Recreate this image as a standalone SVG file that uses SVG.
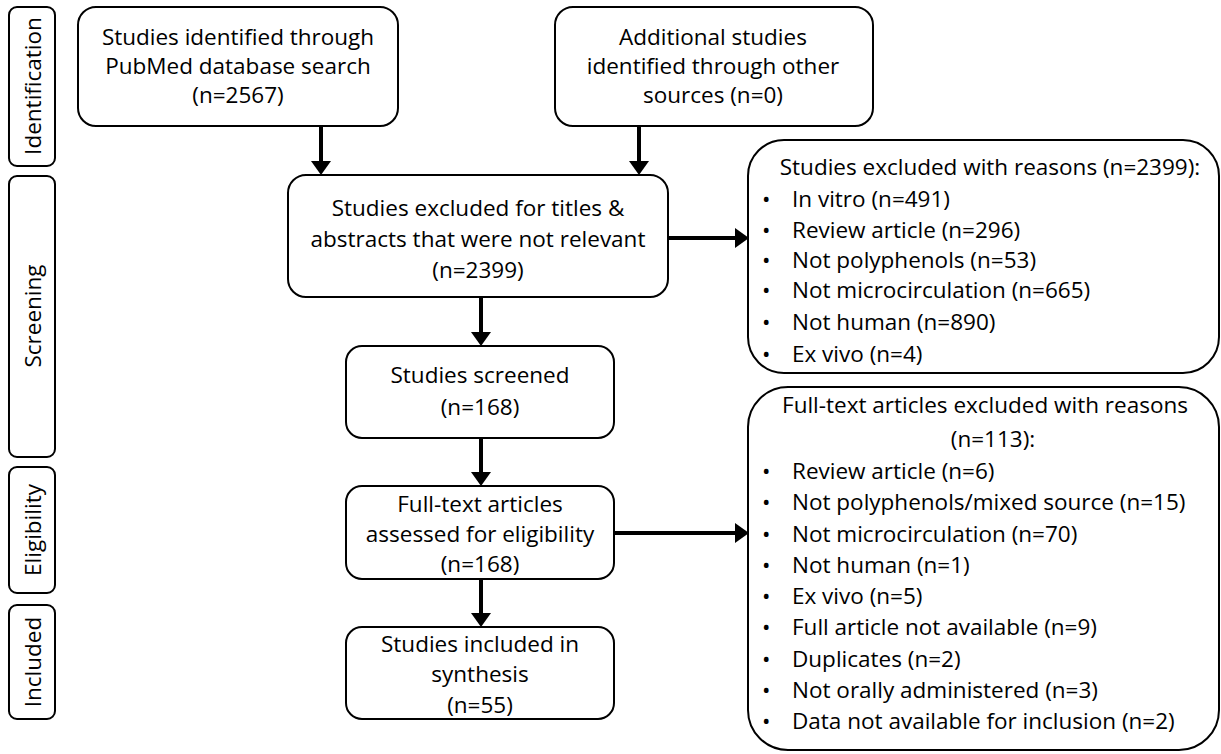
<svg xmlns="http://www.w3.org/2000/svg" width="1221" height="754" viewBox="0 0 1221 754">
<defs>
<style>
.box{fill:#fff;stroke:#000;stroke-width:2}
.t{font-family:"Open Sans","Noto Sans",sans-serif;font-size:22.5px;fill:#000}
.c{text-anchor:middle}
.conn{stroke:#000;stroke-width:4;fill:none}
</style>
<marker id="ah" markerWidth="3.5" markerHeight="5" refX="2.75" refY="2.5" orient="auto" markerUnits="strokeWidth" viewBox="0 0 3.5 5">
<path d="M0,0 L3.5,2.5 L0,5 Z" fill="#000"/>
</marker>
</defs>
<rect width="1221" height="754" fill="#fff"/>
<g id="phase-identification"><rect class="box" x="9" y="7" width="46" height="159" rx="8"/><text class="t c" transform="translate(41,86) rotate(-90)">Identification</text></g>
<g id="phase-screening"><rect class="box" x="9" y="176" width="46" height="281" rx="8"/><text class="t c" transform="translate(41,316) rotate(-90)">Screening</text></g>
<g id="phase-eligibility"><rect class="box" x="9" y="467" width="46" height="126" rx="8"/><text class="t c" transform="translate(41,530) rotate(-90)">Eligibility</text></g>
<g id="phase-included"><rect class="box" x="9" y="605" width="46" height="114" rx="8"/><text class="t c" transform="translate(41,662) rotate(-90)">Included</text></g>

<g id="connectors">
<line class="conn" x1="321" y1="127" x2="321" y2="172" marker-end="url(#ah)"/>
<line class="conn" x1="639" y1="127" x2="639" y2="172" marker-end="url(#ah)"/>
<line class="conn" x1="669" y1="238" x2="746" y2="238" marker-end="url(#ah)"/>
<line class="conn" x1="481" y1="298" x2="481" y2="343" marker-end="url(#ah)"/>
<line class="conn" x1="481" y1="439" x2="481" y2="483" marker-end="url(#ah)"/>
<line class="conn" x1="615" y1="533" x2="746" y2="533" marker-end="url(#ah)"/>
<line class="conn" x1="481" y1="580" x2="481" y2="624" marker-end="url(#ah)"/>
</g>

<g id="pubmed"><rect class="box" x="78" y="7" width="320" height="119" rx="18"/>
<text class="t c" x="238" y="45">Studies identified through</text>
<text class="t c" x="238" y="74">PubMed database search</text>
<text class="t c" x="238" y="103">(n=2567)</text></g>

<g id="additional"><rect class="box" x="555" y="7" width="318" height="119" rx="18"/>
<text class="t c" x="713" y="45">Additional studies</text>
<text class="t c" x="713" y="74">identified through other</text>
<text class="t c" x="713" y="103">sources (n=0)</text></g>

<g id="excluded-titles"><rect class="box" x="288" y="175" width="380" height="122" rx="18"/>
<text class="t c" x="478" y="216">Studies excluded for titles &amp;</text>
<text class="t c" x="478" y="247">abstracts that were not relevant</text>
<text class="t c" x="478" y="278">(n=2399)</text></g>

<g id="screened"><rect class="box" x="346" y="346" width="268" height="92" rx="16"/>
<text class="t c" x="480" y="383">Studies screened</text>
<text class="t c" x="480" y="415">(n=168)</text></g>

<g id="fulltext"><rect class="box" x="346" y="486" width="268" height="93" rx="16"/>
<text class="t c" x="480" y="512">Full-text articles</text>
<text class="t c" x="480" y="542">assessed for eligibility</text>
<text class="t c" x="480" y="572">(n=168)</text></g>

<g id="included"><rect class="box" x="346" y="627" width="268" height="92" rx="16"/>
<text class="t c" x="480" y="652">Studies included in</text>
<text class="t c" x="480" y="682">synthesis</text>
<text class="t c" x="480" y="713">(n=55)</text></g>

<g id="excluded-reasons"><rect class="box" x="748" y="140" width="471" height="233" rx="36"/>
<text class="t c" x="990" y="175">Studies excluded with reasons (n=2399):</text>
<g class="t"><text x="762" y="207">•</text><text x="792" y="207">In vitro (n=491)</text>
<text x="762" y="238">•</text><text x="792" y="238">Review article (n=296)</text>
<text x="762" y="268">•</text><text x="792" y="268">Not polyphenols (n=53)</text>
<text x="762" y="298">•</text><text x="792" y="298">Not microcirculation (n=665)</text>
<text x="762" y="330">•</text><text x="792" y="330">Not human (n=890)</text>
<text x="762" y="362">•</text><text x="792" y="362">Ex vivo (n=4)</text></g></g>

<g id="fulltext-excluded"><rect class="box" x="748" y="387" width="471" height="363" rx="40"/>
<text class="t c" x="985" y="413">Full-text articles excluded with reasons</text>
<text class="t c" x="993" y="447">(n=113):</text>
<g class="t"><text x="762" y="479">•</text><text x="792" y="479">Review article (n=6)</text>
<text x="762" y="510">•</text><text x="792" y="510">Not polyphenols/mixed source (n=15)</text>
<text x="762" y="542">•</text><text x="792" y="542">Not microcirculation (n=70)</text>
<text x="762" y="573">•</text><text x="792" y="573">Not human (n=1)</text>
<text x="762" y="604">•</text><text x="792" y="604">Ex vivo (n=5)</text>
<text x="762" y="635">•</text><text x="792" y="635">Full article not available (n=9)</text>
<text x="762" y="667">•</text><text x="792" y="667">Duplicates (n=2)</text>
<text x="762" y="698">•</text><text x="792" y="698">Not orally administered (n=3)</text>
<text x="762" y="729">•</text><text x="792" y="729">Data not available for inclusion (n=2)</text></g></g>
</svg>
